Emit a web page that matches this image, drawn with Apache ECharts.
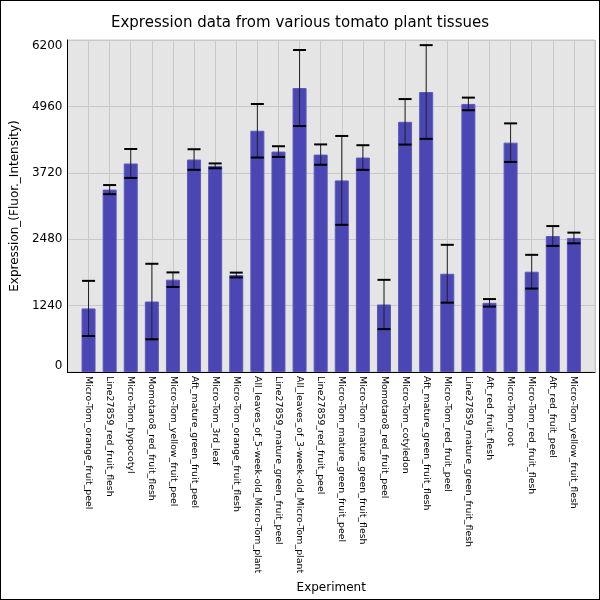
<!doctype html>
<html>
    <head>
        <meta charset="utf-8">
        <title>Tomato tissue expression</title>
        <style>
            html, body { margin: 0; padding: 0; background: #fff; }
            #main {
                width: 600px;
                height: 600px;
                box-sizing: border-box;
                border: 1px solid #000;
            }
        </style>
    </head>
    <body>
        <div id="main"></div>
        <script src="https://cdn.jsdelivr.net/npm/echarts@6/dist/echarts.min.js"></script>
        <script>
            var tissues = [
                'Micro-Tom_orange_fruit_peel',
                'Line27859_red_fruit_flesh',
                'Micro-Tom_hypocotyl',
                'Momotaro8_red_fruit_flesh',
                'Micro-Tom_yellow_fruit_peel',
                'Aft_mature_green_fruit_peel',
                'Micro-Tom_3rd_leaf',
                'Micro-Tom_orange_fruit_flesh',
                'All_leaves_of_5-week-old_Micro-Tom_plant',
                'Line27859_mature_green_fruit_peel',
                'All_leaves_of_3-week-old_Micro-Tom_plant',
                'Line27859_red_fruit_peel',
                'Micro-Tom_mature_green_fruit_peel',
                'Micro-Tom_mature_green_fruit_flesh',
                'Momotaro8_red_fruit_peel',
                'Micro-Tom_cotyledon',
                'Aft_mature_green_fruit_flesh',
                'Micro-Tom_red_fruit_peel',
                'Line27859_mature_green_fruit_flesh',
                'Aft_red_fruit_flesh',
                'Micro-Tom_root',
                'Micro-Tom_red_fruit_flesh',
                'Aft_red_fruit_peel',
                'Micro-Tom_yellow_fruit_flesh'
            ];
            var expression = [1187, 3406, 3894, 1316, 1724, 3968, 3850, 1811, 4505, 4116, 5303, 4060,
                              3578, 4005, 1261, 4672, 5229, 1835, 5006, 1292, 4283, 1873, 2540, 2503];
            var errors = [515, 85, 270, 705, 136, 192, 45, 45, 500, 100, 710, 190,
                          830, 230, 460, 425, 875, 540, 118, 70, 360, 315, 185, 100];
            var yTicks = [0, 1240, 2480, 3720, 4960, 6200];

            var chart = echarts.init(document.getElementById('main'), null, { renderer: 'canvas' });

            // one empty slot at each end gives the full-band padding of the original
            var xCats = [''].concat(tissues, ['']);
            var barData = [null].concat(expression, [null]);
            var errData = expression.map(function (v, i) {
                return [i + 1, v - errors[i], v + errors[i]];
            });

            function renderError(params, api) {
                var x = api.value(0);
                var lo = api.coord([x, api.value(1)]);
                var hi = api.coord([x, api.value(2)]);
                var half = 6.5;
                return {
                    type: 'group',
                    children: [
                        { type: 'line', shape: { x1: lo[0], y1: lo[1], x2: hi[0], y2: hi[1] },
                          style: { stroke: '#222', lineWidth: 1 } },
                        { type: 'line', shape: { x1: hi[0] - half, y1: hi[1], x2: hi[0] + half, y2: hi[1] },
                          style: { stroke: '#000', lineWidth: 2 } },
                        { type: 'line', shape: { x1: lo[0] - half, y1: lo[1], x2: lo[0] + half, y2: lo[1] },
                          style: { stroke: '#000', lineWidth: 2 } }
                    ]
                };
            }

            chart.setOption({
                animation: false,
                textStyle: { fontFamily: 'DejaVu Sans', color: '#000' },
                title: {
                    text: 'Expression data from various tomato plant tissues',
                    left: 'center',
                    top: 10,
                    textStyle: { fontFamily: 'DejaVu Sans', fontSize: 15, fontWeight: 'normal', color: '#000' }
                },
                grid: {
                    left: 66,
                    right: 4,
                    top: 39,
                    bottom: 227,
                    show: true,
                    backgroundColor: '#e5e5e5',
                    borderColor: '#c8c8c8',
                    borderWidth: 1
                },
                xAxis: {
                    type: 'category',
                    data: xCats,
                    boundaryGap: false,
                    name: 'Experiment',
                    nameLocation: 'middle',
                    nameGap: 210,
                    nameTextStyle: { fontSize: 12, color: '#000' },
                    axisLine: { lineStyle: { color: '#000', width: 1 } },
                    axisTick: { show: false },
                    axisLabel: { rotate: -90, fontSize: 9.4, color: '#000', margin: 4, interval: 0 },
                    splitLine: { show: true, interval: 0, lineStyle: { color: '#c8c8c8', width: 1 } }
                },
                yAxis: {
                    type: 'value',
                    min: yTicks[0],
                    max: yTicks[yTicks.length - 1],
                    interval: yTicks[1] - yTicks[0],
                    name: 'Expression_(Fluor._Intensity)',
                    nameLocation: 'middle',
                    nameGap: 45,
                    nameTextStyle: { fontSize: 12, color: '#000' },
                    axisLine: { show: true, lineStyle: { color: '#000', width: 1 } },
                    axisTick: { show: false },
                    axisLabel: {
                        fontSize: 12,
                        color: '#000',
                        margin: 5,
                        formatter: function (v) { return String(v); },
                        verticalAlignMinLabel: 'bottom',
                        verticalAlignMaxLabel: 'top'
                    },
                    splitLine: { lineStyle: { color: '#c8c8c8', width: 1 } }
                },
                series: [
                    {
                        type: 'bar',
                        data: barData,
                        barWidth: 14,
                        itemStyle: { color: '#4a46b4', borderColor: '#5d59bd', borderWidth: 1 },
                        silent: true
                    },
                    {
                        type: 'custom',
                        data: errData,
                        renderItem: renderError,
                        encode: { x: 0, y: [1, 2] },
                        z: 5,
                        silent: true
                    }
                ]
            });

            window.onresize = chart.resize;
        </script>
    </body>
</html>
